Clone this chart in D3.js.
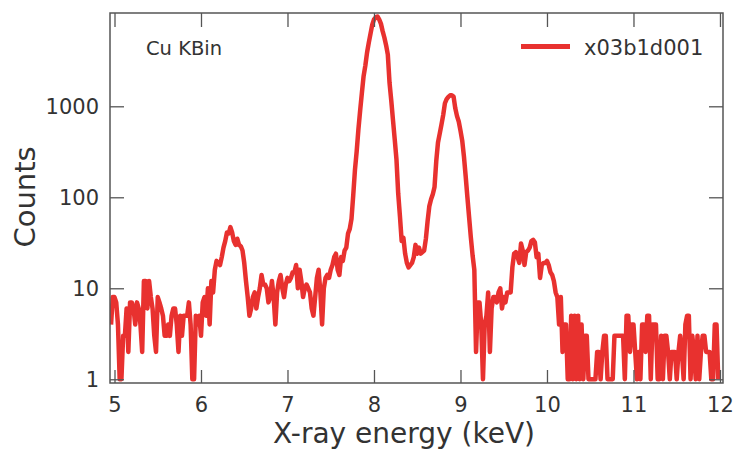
<!DOCTYPE html>
<html>
<head>
<meta charset="utf-8">
<script src="https://cdn.jsdelivr.net/npm/d3@7"></script>
<style>
  html, body { margin: 0; padding: 0; background: #fff; }
  svg { display: block; font-family: "DejaVu Sans", Verdana, sans-serif; }
</style>
</head>
<body>
<svg id="chart" width="736" height="452"></svg>
<script>
// ---- Data ----
const binStart = 4.96;   // keV of first bin
const binWidth = 0.02;   // keV per bin
const counts = [
  4,8,8,7,4,1,1,3,3,6,2,7,7,6,4,7,6,4,2,12,12,6,12,8,6,3,2,8,7,6,5,3,3,4,3,5,6,6,4,2,5,3,5,5,5,7,4,1,1,5,4,5,3,7,8,5,10,4,12,9,16,20,
  19,18,22,28,33, 41,40,47,41,33, 30,35,30,29,26, 19,12,8,5,6, 8,9,6,8,10, 14,11,11,10,7,
  8,12,8,4,9, 12,14,10,8,11, 13,12,13,15,15, 18,10,16,12,8, 10,11,10,9,6, 5,8,13,16,9,
  4,10,13,14,13, 16,18,22,24,16, 14,22,20,26,28, 40,45,
  58,105,200,320,560, 900,1400,2150,2800,3900, 5000,6300,7900,9000,9500,
  9700,9000,8100,6700,5700, 4700,3700,1800,1150,700, 430,260,110,62,33,
  36,24,19,17,18, 19,22,30,24,28, 24,25,26,35,55,
  80,95,108,130,250, 400,500,630,800,1080, 1200,1270,1320,1320,1280,
  950,780,680,540,420, 280,170,100,60,36, 23,16,2,7,7,
  4,1,4,5,9, 2,6,8,8,7, 9,10,6,8,7, 9,9,9,17,24,
  25,22,19,31,26, 18,25,26,28,33, 34,32,22,24,13, 18,19,19,20,18,
  15,14,12,9,8, 4,8,2,4,4, 1,1,5,1,5, 1,5,1,4,1,
  3,3,1,1,1, 1,1,2,2,1, 2,3,3,1,1, 1,1,3,3,3,
  3,3,3,1,5, 5,2,4,4,2, 1,2,1,4,4, 2,5,5,1,4,
  4,4,1,1,3, 1,3,3,2,1, 2,2,2,1,2, 3,2,1,4,5,
  5,1,3,2,1, 3,1,2,3,3, 2,2,2,1,1, 4,4,1
];
const xTicks = [5, 6, 7, 8, 9, 10, 11, 12];
const yTicks = [1, 10, 100, 1000];
const yTickLabels = ["1", "10", "100", "1000"];
const seriesName = "x03b1d001";
const panelLabel = "Cu KBin";
const xTitle = "X-ray energy (keV)";
const yTitle = "Counts";

const spectrum = counts.map((c, i) => ({ e: binStart + i * binWidth, c: c }));

// ---- Layout ----
const W = 736, H = 452;
const margin = { left: 110, right: 13, top: 13, bottom: 69 };
const iw = W - margin.left - margin.right;
const ih = H - margin.top - margin.bottom;

const svg = d3.select("#chart");
const g = svg.append("g").attr("transform", `translate(${margin.left},${margin.top})`);

const x = d3.scaleLinear().domain([4.948, 12.035]).range([0, iw]);
const y = d3.scaleLog().domain([0.91, 10600]).range([ih, 0]);

const axisColor = "#555";
const textColor = "#333";
const red = "#e8312f";

// data line (clipped)
svg.append("defs").append("clipPath").attr("id", "clip")
  .append("rect").attr("x", 0).attr("y", 0).attr("width", iw).attr("height", ih);

const line = d3.line().x(d => x(d.e)).y(d => y(d.c)).curve(d3.curveLinear);
g.append("path")
  .datum(spectrum)
  .attr("clip-path", "url(#clip)")
  .attr("fill", "none")
  .attr("stroke", red)
  .attr("stroke-width", 4.5)
  .attr("stroke-linejoin", "round")
  .attr("d", line);

// axes
function styleAxis(sel) {
  sel.select(".domain").remove();
  sel.selectAll(".tick line").attr("stroke", axisColor).attr("stroke-width", 1.3);
  sel.selectAll(".tick text").attr("fill", textColor);
}

g.append("g").attr("transform", `translate(0,${ih})`)
  .call(d3.axisBottom(x).tickValues(xTicks).tickFormat(d3.format("d")).tickSizeInner(-13).tickSizeOuter(0).tickPadding(14))
  .call(styleAxis)
  .selectAll("text").style("font-size", "21px").style("font-family", "DejaVu Sans");

g.append("g")
  .call(d3.axisTop(x).tickValues(xTicks).tickFormat("").tickSizeInner(-14).tickSizeOuter(0))
  .call(styleAxis);

g.append("g")
  .call(d3.axisLeft(y).tickValues(yTicks).tickFormat((d, i) => yTickLabels[i]).tickSizeInner(-14).tickSizeOuter(0).tickPadding(11))
  .call(styleAxis)
  .selectAll("text").style("font-size", "21px").style("font-family", "DejaVu Sans");

g.append("g").attr("transform", `translate(${iw},0)`)
  .call(d3.axisRight(y).tickValues(yTicks).tickFormat("").tickSizeInner(-14).tickSizeOuter(0))
  .call(styleAxis);

// frame
g.append("rect").attr("x", 0).attr("y", 0).attr("width", iw).attr("height", ih)
  .attr("fill", "none").attr("stroke", axisColor).attr("stroke-width", 1.5);

// axis titles
svg.append("text")
  .attr("x", 404).attr("y", 443)
  .attr("text-anchor", "middle")
  .attr("fill", textColor)
  .style("font-size", "28px")
  .text(xTitle);

svg.append("text")
  .attr("transform", `translate(35,${197}) rotate(-90)`)
  .attr("text-anchor", "middle")
  .attr("fill", textColor)
  .style("font-size", "29px")
  .text(yTitle);

// panel label
svg.append("text")
  .attr("x", 146).attr("y", 55)
  .attr("fill", textColor)
  .style("font-size", "19.5px")
  .text(panelLabel);

// legend
svg.append("line")
  .attr("x1", 521).attr("x2", 570).attr("y1", 46.5).attr("y2", 46.5)
  .attr("stroke", red).attr("stroke-width", 5);
svg.append("text")
  .attr("x", 584).attr("y", 55)
  .attr("fill", textColor)
  .style("font-size", "21px")
  .text(seriesName);
</script>
</body>
</html>
